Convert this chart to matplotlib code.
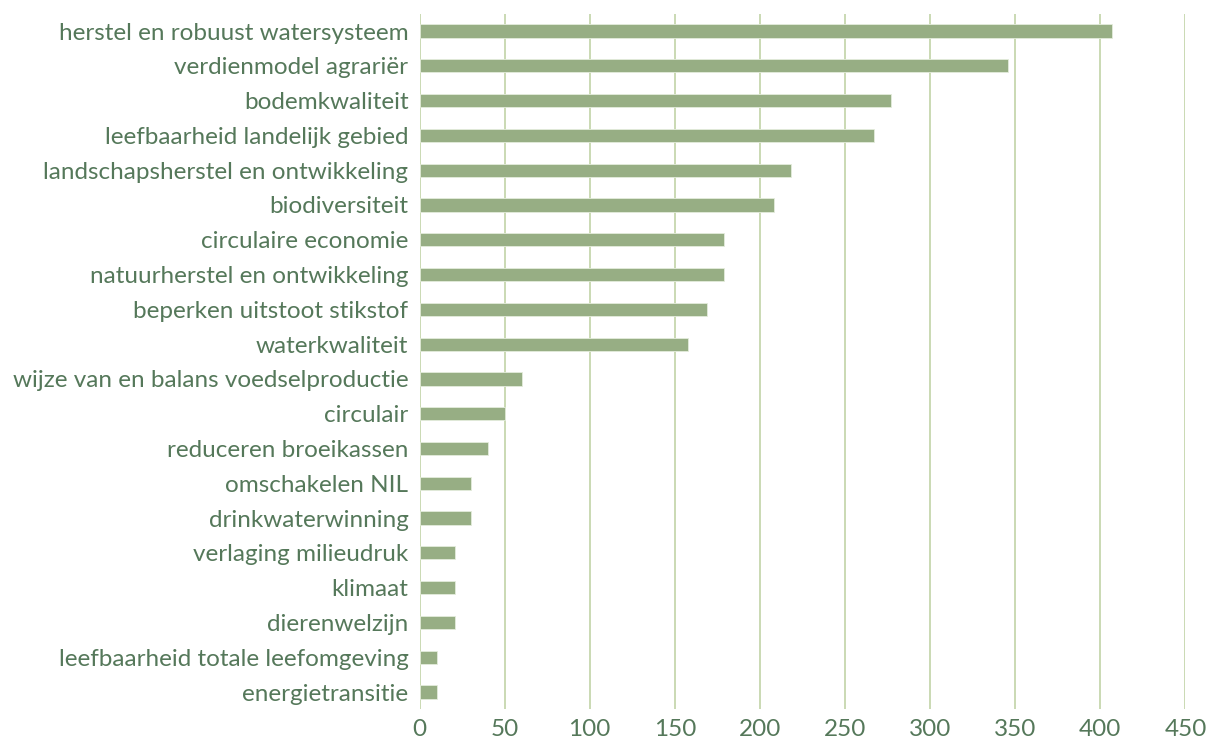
import matplotlib.pyplot as plt

# Categories (top to bottom) and their counts
categories = [
    "herstel en robuust watersysteem",
    "verdienmodel agrariër",
    "bodemkwaliteit",
    "leefbaarheid landelijk gebied",
    "landschapsherstel en ontwikkeling",
    "biodiversiteit",
    "circulaire economie",
    "natuurherstel en ontwikkeling",
    "beperken uitstoot stikstof",
    "waterkwaliteit",
    "wijze van en balans voedselproductie",
    "circulair",
    "reduceren broeikassen",
    "omschakelen NIL",
    "drinkwaterwinning",
    "verlaging milieudruk",
    "klimaat",
    "dierenwelzijn",
    "leefbaarheid totale leefomgeving",
    "energietransitie",
]
values = [407, 346, 277, 267, 218, 208, 179, 179, 169, 158,
          60, 50, 40, 30, 30, 21, 21, 21, 10, 10]
xticks = [0, 50, 100, 150, 200, 250, 300, 350, 400, 450]

bar_color = "#97ae84"
grid_color = "#c6d7ae"
text_color = "#55785a"

plt.rcParams["font.family"] = ["Lato", "DejaVu Sans"]

fig = plt.figure(figsize=(12.08, 7.44), dpi=100)
ax = fig.add_axes([0.3473, 0.0465, 0.9813 - 0.3473, 0.9817 - 0.0465])

ypos = list(range(len(categories)))[::-1]
ax.barh(ypos, values, height=0.38, color=bar_color,
        edgecolor="#e4ecdc", linewidth=0.6, zorder=3)

ax.set_xlim(0, 450)
ax.set_ylim(-0.5, len(categories) - 0.5)
ax.set_xticks(xticks)
ax.set_yticks(ypos)
ax.set_yticklabels(categories)

ax.grid(axis="x", color=grid_color, linewidth=1.3, zorder=0)
for s in ax.spines.values():
    s.set_visible(False)

ax.tick_params(axis="y", length=0, pad=8, labelsize=17.5, labelcolor=text_color)
ax.tick_params(axis="x", length=0, pad=7, labelsize=17.5, labelcolor=text_color)

fig.savefig("out.png", dpi=100)
